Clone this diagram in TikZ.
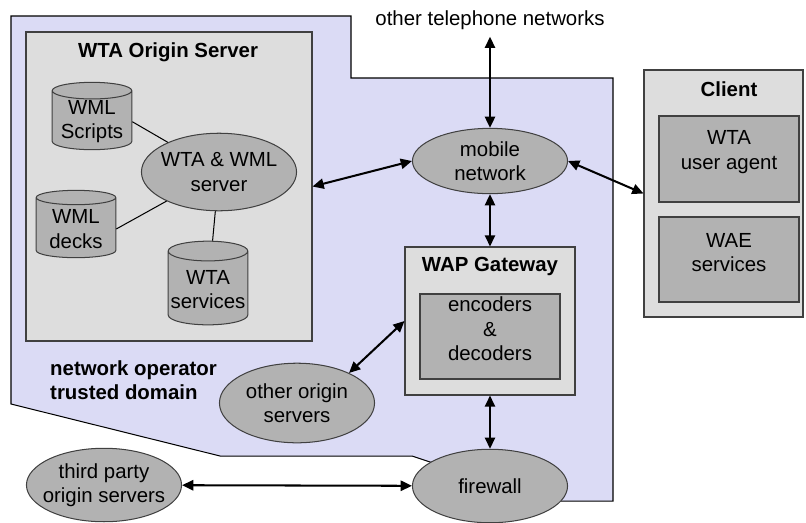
\documentclass[tikz,border=0pt]{standalone}
\usepackage{fontspec}
\setmainfont{Liberation Sans}
\usetikzlibrary{shapes.geometric,arrows.meta,fit,graphs}
\definecolor{opblue}{RGB}{219,219,245}
\definecolor{boxgray}{RGB}{221,221,221}
\definecolor{itemgray}{RGB}{178,178,178}
\definecolor{edgegray}{RGB}{64,64,64}
\tikzset{
    box/.style ={
        draw=edgegray,
        fill=boxgray,
        line width=0.5pt,
        inner sep=0pt
    },
    item/.style ={
        draw=edgegray,
        fill=itemgray,
        line width=0.5pt,
        inner sep=0pt,
        align=center
    },
    oval/.style ={
        shape=ellipse,
        draw=edgegray,
        fill=itemgray,
        line width=0.5pt,
        inner xsep=-4pt,
        inner ysep=-3pt,
        minimum width=76pt,
        minimum height=38pt,
        align=center
    },
    drum/.style ={
        shape=cylinder,
        shape border rotate=90,
        aspect=0.25,
        anchor=shape center,
        draw=edgegray,
        fill=itemgray,
        line width=0.5pt,
        inner xsep=1pt,
        inner ysep=0pt,
        minimum width=39pt,
        minimum height=33pt,
        align=center
    },
    title/.style ={
        font=\bfseries
    },
    link/.style ={
        line width=1pt
    }
}

\begin{document}
\begin{tikzpicture}[x=0.49pt, y=-0.49pt, >={Triangle[length=5.5pt,width=5pt]},
    font=\fontsize{10}{12}\selectfont]
    \useasboundingbox (0,0) rectangle (806,522);
    \filldraw[fill=opblue, draw=black, line width=0.5pt] (11,16) -- (351,16) -- (351,78)
        -- (613,78) -- (613,501) -- (490,501) -- (490,470) -- (430,462) -- (412,456)
        -- (220,456) -- (11,404) -- cycle;
    \node[title, align=left, anchor=west] (trusted) at (43,380) {network operator\\trusted domain};

    \node[box, fit={(26,32) (312,341)}] (origin) {};
    \node[title] (origintitle) at (168,52) {WTA Origin Server};
    \node[drum] (scripts) at (92,116) {WML\\Scripts};
    \node[drum] (decks) at (76,224) {WML\\decks};
    \node[drum, minimum height=41pt] (services) at (208,283) {WTA\\services};
    \node[oval] (server) at (219,172) {WTA \& WML\\server};

    \node[box, fit={(644,70) (803,317)}] (client) {};
    \node[title] (clienttitle) at (729,89) {Client};
    \node[item, fit={(659,116) (799,202)}] (agent) {WTA\\user agent};
    \node[item, fit={(659,217) (799,302)}] (waeserv) {WAE\\services};

    \node[box, fit={(405,247) (575,395)}] (gateway) {};
    \node[title] (gatewaytitle) at (490,266) {WAP Gateway};
    \node[item, fit={(420,294) (560,379)}] (codec) {encoders\\\&\\decoders};

    \node (phone) at (490,20) {other telephone networks};
    \node[oval, minimum height=32pt] (mobile) at (490,161) {mobile\\network};
    \node[oval, minimum height=39pt] (others) at (297,403) {other origin\\servers};
    \node[oval, minimum height=36pt] (third) at (104,485) {third party\\origin servers};
    \node[oval, minimum height=36pt] (firewall) at (490,486) {firewall};

    \draw[line width=0.5pt] (scripts.east) -- (server) (decks.east) -- (server) (services) -- (server);
    \graph[edges={link}]{
        (phone) <-> (mobile) <-> (gateway) <-> (firewall);
        (third) <-> (firewall);
    };
    \draw[link, <->] (origin.east) -- (mobile.west);
    \draw[link, <->] (mobile.east) -- (client.west);
    \draw[link, <->] (others.30) -- (gateway.west);
\end{tikzpicture}
\end{document}
